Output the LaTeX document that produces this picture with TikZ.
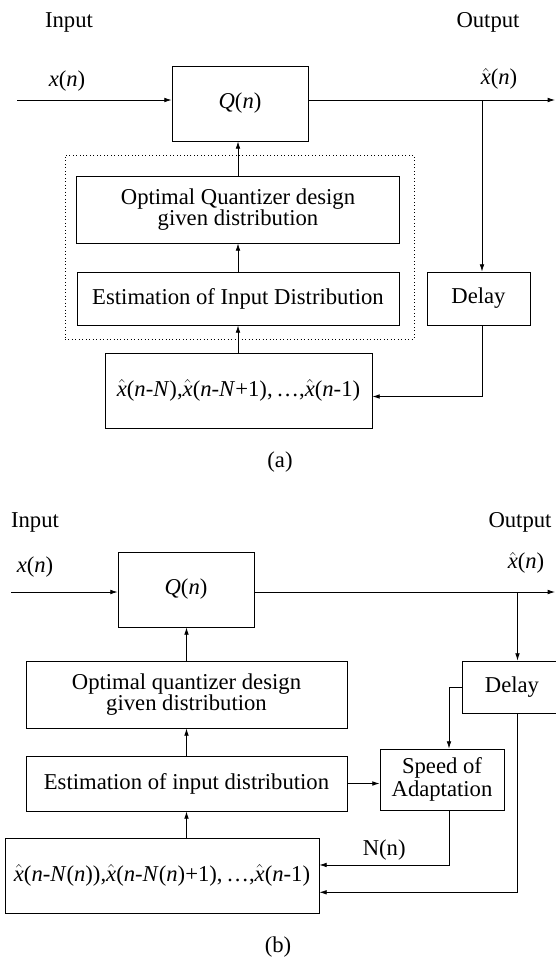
\documentclass[tikz,border=0pt]{standalone}
\usepackage{fontspec}
\setmainfont{Liberation Serif}
\usetikzlibrary{arrows.meta}

\tikzset{every picture/.style={line width=0.6pt}}
\tikzset{
  blk/.style={draw, inner sep=0pt, align=center},
  grp/.style={draw, dotted, inner sep=0pt},
  arr/.style={-{Latex[length=5.5pt,width=3.5pt]}},
  every node/.style={font=\fontsize{17}{17.5}\selectfont}
}
\newcommand{\vx}{\textit{x}}
\newcommand{\vhx}{$\hat{\mathit{x}}$}
\newcommand{\vn}{\textit{n}}
\newcommand{\vN}{\textit{N}}

\begin{document}
\begin{tikzpicture}[x=0.75pt,y=0.75pt,yscale=-1]
\useasboundingbox (0,0) rectangle (556,958);

%%%%% (a) fixed window

% Text Node
\node (inpA) at (69,22) {Input};
% Text Node
\node (outpA) at (488,22) {Output};
% Text Node
\node (xA) at (67,81) {\vx(\vn)};
% Text Node
\node (xhA) at (499,79) {\vhx(\vn)};

%Shape: Rectangle [dotted group]
\node[grp, minimum width=261.75pt, minimum height=138pt] (grpA) at (239.5,247) {};
%Shape: Rectangle
\node[blk, minimum width=102pt, minimum height=56.25pt] (qA) at (240,103.5) {\textit{Q}(\vn)};
%Shape: Rectangle
\node[blk, minimum width=242.25pt, minimum height=50.25pt] (optA) at (238,209.5) {Optimal Quantizer design\\[-2pt]given distribution};
%Shape: Rectangle
\node[blk, minimum width=241.5pt, minimum height=39.75pt] (estA) at (238,298.5) {Estimation of Input Distribution};
%Shape: Rectangle
\node[blk, minimum width=77.25pt, minimum height=39.75pt] (delA) at (478.5,298.5) {Delay};
%Shape: Rectangle
\node[blk, minimum width=200.25pt, minimum height=56.25pt] (bufA) at (238.5,390.5) {\vhx(\vn-\vN),\vhx(\vn-\vN+1),\,\dots,\vhx(\vn-1)};

\coordinate (inA) at (17,100);
\coordinate (endA) at (555,100);
\coordinate (brA) at (482,100);

%Straight Lines
\draw[arr] (inA) -- (inA -| qA.west);
\draw[arr] (qA.east |- endA) -- (endA);
\draw[arr] (optA.north) -- (optA.north |- qA.south);
\draw[arr] (estA.north) -- (optA.south);
\draw[arr] (estA.south |- bufA.north) -- (estA.south);
\draw[arr] (brA) -- (brA |- delA.north);
\draw[arr] (brA |- delA.south) |- ([yshift=4.5pt]bufA.east);

% Text Node
\node (capA) at (280,462) {(a)};

%%%%% (b) variable window

% Text Node
\node (inpB) at (35,522) {Input};
% Text Node
\node (outpB) at (520,522) {Output};
% Text Node
\node (xB) at (35,567) {\vx(\vn)};
% Text Node
\node (xhB) at (526,563) {\vhx(\vn)};

%Shape: Rectangle
\node[blk, minimum width=102pt, minimum height=56.25pt] (qB) at (186,589.5) {\textit{Q}(\vn)};
%Shape: Rectangle
\node[blk, minimum width=240.75pt, minimum height=50.25pt] (optB) at (186.5,694.5) {Optimal quantizer design\\[-2pt]given distribution};
%Shape: Rectangle
\node[blk, minimum width=240.75pt, minimum height=41.25pt] (estB) at (186.5,783.5) {Estimation of input distribution};
%Shape: Rectangle
\node[blk, minimum width=93pt, minimum height=45.75pt] (spdB) at (442,779.5) {Speed of\\Adaptation};
%Shape: Rectangle
\node[blk, minimum width=75pt, minimum height=39pt] (delB) at (512,687) {Delay};
%Shape: Rectangle
\node[blk, minimum width=235.5pt, minimum height=56.25pt] (bufB) at (162,875.5) {\vhx(\vn-\vN(\vn)),\vhx(\vn-\vN(\vn)+1),\,\dots,\vhx(\vn-1)};

\coordinate (inB) at (11,592);
\coordinate (endB) at (555,592);
\coordinate (brB) at (517.5,592);

%Straight Lines
\draw[arr] (inB) -- (inB -| qB.west);
\draw[arr] (qB.east |- endB) -- (endB);
\draw[arr] (optB.north) -- (optB.north |- qB.south);
\draw[arr] (estB.north) -- (optB.south);
\draw[arr] (estB.south |- bufB.north) -- (estB.south);
\draw[arr] (estB.east) -- (estB.east -| spdB.west);
\draw[arr] (brB) -- (brB |- delB.north);
\draw[arr] (delB.west) -| ([xshift=5.25pt]spdB.north);
\draw[arr] ([xshift=5.25pt]spdB.south) |- node[pos=0.75, above] {N(n)} ([yshift=-7.9pt]bufB.east);
\draw[arr] (brB |- delB.south) |- ([yshift=12.6pt]bufB.east);

% Text Node
\node (capB) at (278,947) {(b)};

\end{tikzpicture}
\end{document}
